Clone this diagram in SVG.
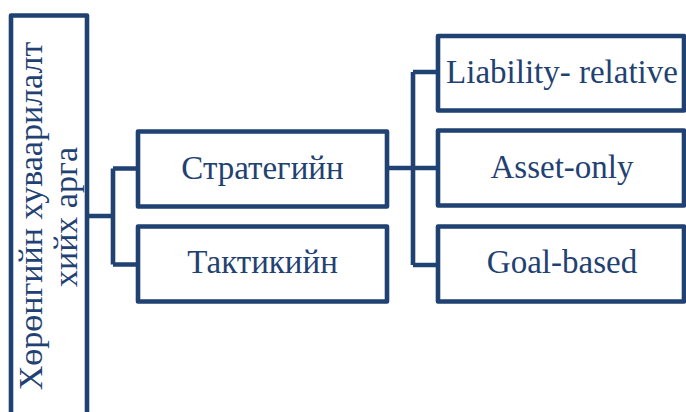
<svg xmlns="http://www.w3.org/2000/svg" width="686" height="412" viewBox="0 0 686 412">
<style>
.box{fill:#FFFFFF;stroke:#1F4273;stroke-width:4.6;stroke-linejoin:round}
.lbl{font-size:33px;fill:#1F4273;text-anchor:middle}
.conn{fill:none;stroke:#1F4273;stroke-width:4.6;stroke-linejoin:round}
</style>
<g id="connectors">
<path class="conn" d="M87 216 H113 M113 168.5 V264.5 M113 168.5 H138 M113 264.5 H138"/>
<path class="conn" d="M387 168 H413 M413 72 V265 M413 72 H438 M413 168 H438 M413 265 H438"/>
</g>
<g font-family="Liberation Serif, Times New Roman, DejaVu Serif, serif">
<g id="root">
<rect class="box" x="11" y="15.5" width="76" height="402"/>
<text class="lbl" transform="translate(42,216) rotate(-90)" style="font-size:34px">Хөрөнгийн хуваарилалт</text>
<text class="lbl" transform="translate(77,217) rotate(-90)" style="font-size:34px">хийх арга</text>
</g>
<g id="strategic">
<rect class="box" x="138" y="131.5" width="249" height="75"/>
<text class="lbl" x="262.5" y="179">Стратегийн</text>
</g>
<g id="tactical">
<rect class="box" x="138" y="226.5" width="249" height="75"/>
<text class="lbl" x="262.5" y="273">Тактикийн</text>
</g>
<g id="liability">
<rect class="box" x="438" y="36" width="246" height="74.5"/>
<text class="lbl" x="562" y="83">Liability- relative</text>
</g>
<g id="asset">
<rect class="box" x="438" y="130.5" width="246" height="75"/>
<text class="lbl" x="562" y="178">Asset-only</text>
</g>
<g id="goal">
<rect class="box" x="438" y="226.5" width="246" height="75"/>
<text class="lbl" x="562" y="273">Goal-based</text>
</g>
</g>
</svg>
